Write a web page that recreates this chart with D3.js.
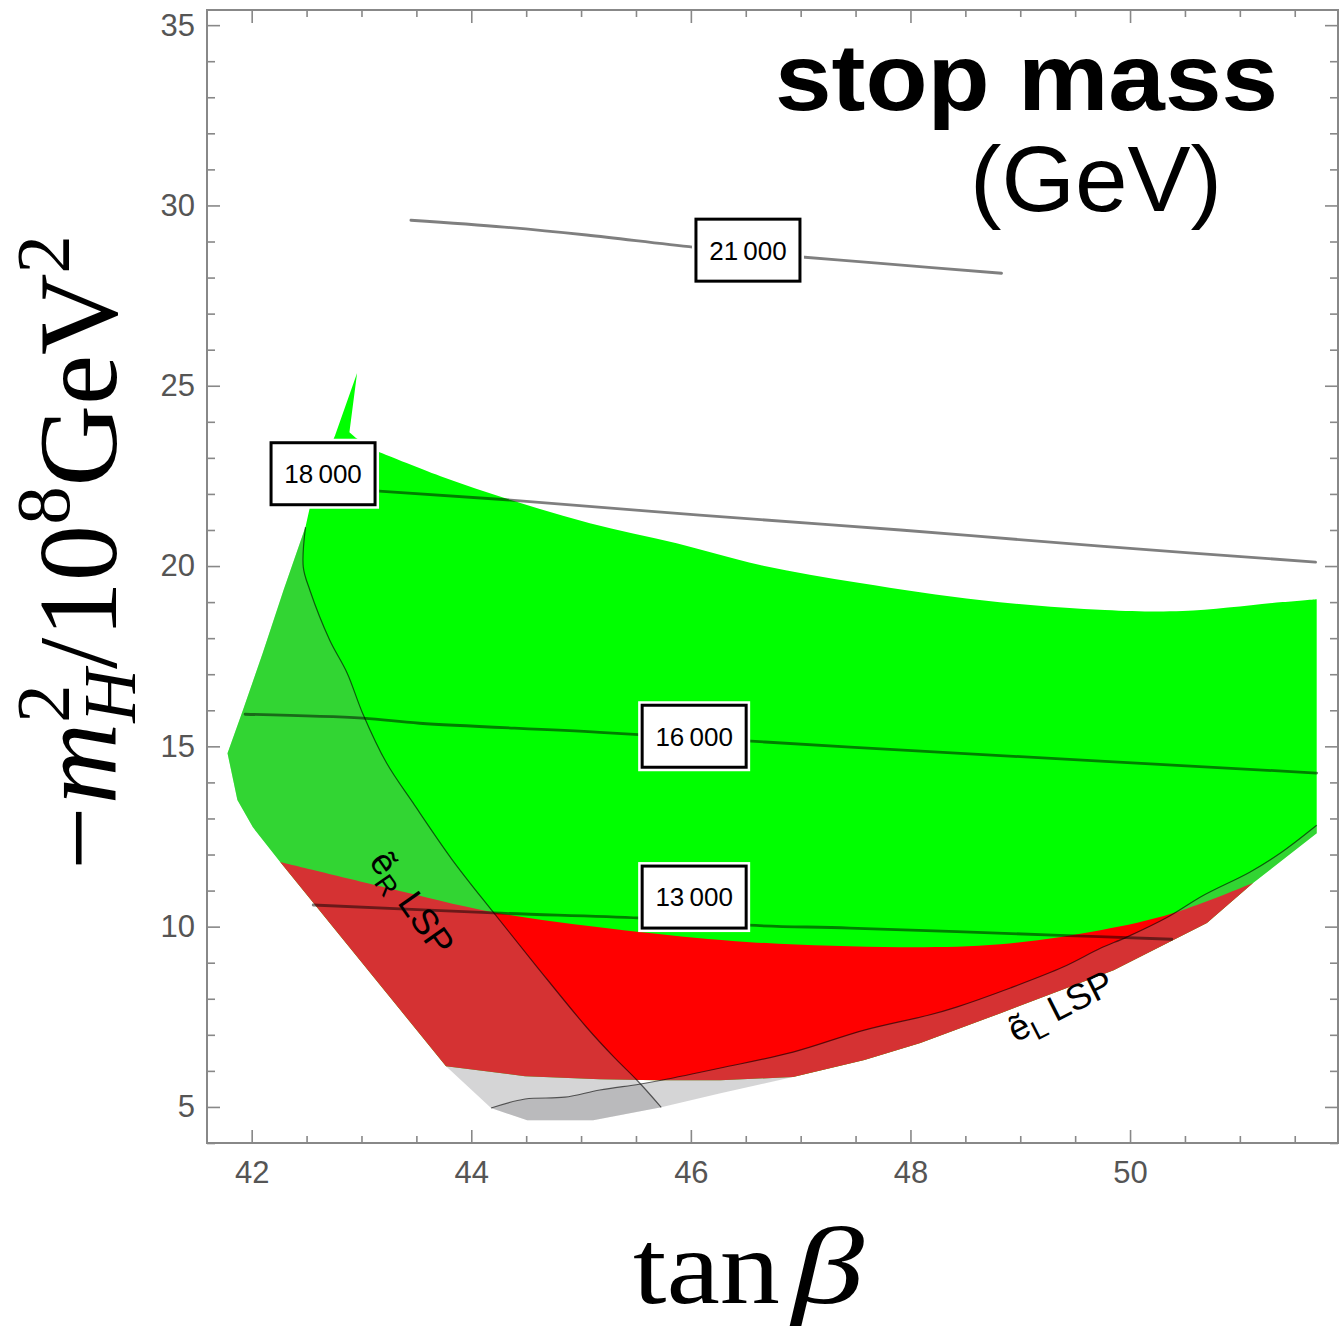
<!DOCTYPE html>
<html>
<head>
<meta charset="utf-8">
<script src="https://cdn.jsdelivr.net/npm/d3@7"></script>
<style>
  body { margin: 0; background: #fff; }
  svg { display: block; }
</style>
</head>
<body>
<svg id="chart" width="1340" height="1328"></svg>
<script>
// ---- axis ticks ----
const xTicks = [42, 44, 46, 48, 50];
const yTicks = [5, 10, 15, 20, 25, 30, 35];

// ---- regions in (tan beta, -m_H^2 / 1e8 GeV^2) ----
// allowed region (green): spike, smooth upper edge, right/lower edge, left edge
const greenSpike = [[42.76, 23.63], [42.96, 25.35], [42.89, 23.71], [42.95, 23.55], [43.16, 23.16]];
const greenTop = [
  [43.16, 23.16], [43.72, 22.49], [44.36, 21.83], [45.08, 21.19], [45.87, 20.63],
  [46.63, 20.03], [47.54, 19.53], [48.65, 19.05], [49.77, 18.78], [50.48, 18.75],
  [51.39, 19.00], [51.70, 19.08]
];
const greenLower = [
  [51.70, 19.08], [51.70, 12.59], [51.12, 11.21], [50.70, 10.10], [49.85, 8.79],
  [48.82, 7.60], [48.09, 6.77], [47.58, 6.30], [46.93, 5.83], [46.27, 5.74],
  [45.69, 5.74], [45.17, 5.77], [44.49, 5.85], [43.77, 6.13]
];
const greenLeft = [
  [43.77, 6.13], [42.26, 11.79], [42.01, 12.76], [41.87, 13.51], [41.78, 14.81],
  [41.92, 16.00], [42.10, 17.58], [42.29, 19.33], [42.49, 21.08], [42.53, 21.63],
  [42.62, 22.60], [42.76, 23.63]
];
// red band: smooth upper edge, then the lower edge shared with the green outline
const redTop = [
  [42.26, 11.79], [43.24, 11.07], [44.20, 10.40], [45.53, 9.85], [46.54, 9.57],
  [47.90, 9.43], [48.82, 9.51], [49.73, 9.90], [50.39, 10.37], [51.12, 11.21]
];
const redLower = [
  [51.12, 11.21], [50.70, 10.10], [49.85, 8.79], [48.82, 7.60], [48.09, 6.77],
  [47.58, 6.30], [46.93, 5.83], [46.27, 5.74], [45.69, 5.74], [45.17, 5.77],
  [44.49, 5.85], [43.77, 6.13], [42.26, 11.79]
];
// selectron-R LSP: boundary line and the outer edge that closes the region
const eRBoundary = [
  [42.49, 21.08], [42.47, 19.97], [42.53, 19.33], [42.71, 17.95], [42.87, 17.03],
  [43.01, 15.92], [43.23, 14.53], [43.47, 13.43], [43.83, 11.84], [44.20, 10.40],
  [44.60, 8.88], [45.05, 7.21], [45.30, 6.38], [45.51, 5.74], [45.73, 4.99]
];
const eROuter = [
  [45.73, 4.99], [45.11, 4.63], [44.51, 4.63], [44.18, 4.97], [43.77, 6.13],
  [42.26, 11.79], [42.01, 12.76], [41.87, 13.51], [41.78, 14.81], [41.92, 16.00],
  [42.10, 17.58], [42.29, 19.33], [42.49, 21.08]
];
// selectron-L LSP: boundary line and the outer edge that closes the region
const eLBoundary = [
  [44.18, 4.97], [44.49, 5.22], [44.85, 5.27], [45.17, 5.47], [45.53, 5.63],
  [45.73, 5.74], [46.27, 6.08], [46.93, 6.52], [47.58, 7.13], [48.17, 7.55],
  [48.42, 7.77], [48.91, 8.30], [49.39, 8.88], [49.73, 9.40], [49.97, 9.71],
  [50.34, 10.26], [50.67, 10.87], [51.09, 11.51], [51.37, 12.04], [51.70, 12.81]
];
const eLOuter = [
  [51.70, 12.81], [51.70, 12.59], [51.12, 11.21], [50.70, 10.10], [49.85, 8.79],
  [48.82, 7.60], [48.09, 6.77], [47.58, 6.30], [46.93, 5.83], [46.27, 5.38],
  [45.73, 4.99], [45.11, 4.63], [44.51, 4.63], [44.18, 4.97]
];

// ---- stop-mass contours (GeV) ----
const contourLevels = [21000, 18000, 16000, 13000];
const contour21000 = [[43.45, 29.59], [44.30, 29.40], [45.05, 29.18], [46.03, 28.84], [47.01, 28.57], [47.70, 28.40], [48.83, 28.12]];
const contour18000 = [[42.53, 22.19], [43.16, 22.08], [44.36, 21.83], [46.08, 21.41], [47.91, 21.00], [49.73, 20.55], [51.69, 20.11]];
const contour16000 = [[41.94, 15.89], [43.01, 15.78], [43.53, 15.64], [45.17, 15.39], [47.45, 14.98], [49.73, 14.59], [51.70, 14.26]];
const contour13000 = [[42.56, 10.60], [44.20, 10.38], [45.54, 10.24], [46.52, 10.04], [47.45, 9.96], [49.36, 9.76], [50.38, 9.65]];
const contourLabelAt = [[46.52, 28.76], [42.65, 22.56], [46.03, 15.28], [46.03, 10.82]];

(function draw() {
  const svg = d3.select('#chart');
  const pL = 207, pR = 1338, pT = 10, pB = 1143;
  const x = d3.scaleLinear().domain([41.593, 51.894]).range([pL, pR]);
  const y = d3.scaleLinear().domain([4.0, 35.42]).range([pB, pT]);
  const lineWith = curve => d3.line().x(d => x(d[0])).y(d => y(d[1])).curve(curve);
  const smooth = lineWith(d3.curveCatmullRom.alpha(0.5));
  const straight = lineWith(d3.curveLinear);
  // closed outline made of consecutive smooth / straight pieces
  const ring = parts => parts.map(([pts, gen], i) => {
    const s = gen(pts);
    return i === 0 ? s : 'L' + s.slice(1);
  }).join('') + 'Z';

  const plot = svg.append('g');
  plot.append('path').attr('fill', '#00ff00')
    .attr('d', ring([[greenSpike, straight], [greenTop, smooth], [greenLower, straight], [greenLeft, straight]]));
  plot.append('path').attr('fill', '#ff0000')
    .attr('d', ring([[redTop, smooth], [redLower, straight]]));

  const shade = 'rgba(138,138,140,0.36)';
  plot.append('path').attr('fill', shade).attr('d', ring([[eRBoundary, smooth], [eROuter, straight]]));
  plot.append('path').attr('fill', shade).attr('d', ring([[eLBoundary, smooth], [eLOuter, straight]]));

  [eRBoundary, eLBoundary].forEach(b => {
    plot.append('path').attr('d', smooth(b)).attr('fill', 'none')
      .attr('stroke', 'rgba(0,0,0,0.6)').attr('stroke-width', 1.2);
  });

  const contours = [contour21000, contour18000, contour16000, contour13000];
  contours.forEach(c => {
    plot.append('path').attr('d', smooth(c)).attr('fill', 'none')
      .attr('stroke', 'rgba(0,0,0,0.5)').attr('stroke-width', 2.8)
      .attr('stroke-linecap', 'round');
  });

  const fmt = d3.formatLocale({ thousands: '\u2009', grouping: [3], decimal: '.', currency: ['', ''] }).format(',');
  contourLevels.forEach((lvl, i) => {
    const [ax, ay] = contourLabelAt[i];
    const g = plot.append('g').attr('transform', `translate(${x(ax)},${y(ay)})`);
    g.append('rect').attr('x', -56).attr('y', -35).attr('width', 112).attr('height', 70).attr('fill', '#fff');
    g.append('rect').attr('x', -52).attr('y', -31).attr('width', 104).attr('height', 62)
      .attr('fill', '#fff').attr('stroke', '#000').attr('stroke-width', 3);
    g.append('text').attr('text-anchor', 'middle').attr('dy', '0.36em')
      .attr('font-family', 'Liberation Sans, Arial, sans-serif').attr('font-size', 26)
      .attr('fill', '#000').text(fmt(lvl));
  });

  // LSP labels
  function lspLabel(cx, cy, angle, sub) {
    const t = plot.append('text')
      .attr('transform', `translate(${cx},${cy}) rotate(${angle})`)
      .attr('text-anchor', 'middle')
      .attr('font-family', 'Liberation Sans, Arial, sans-serif')
      .attr('font-size', 36).attr('fill', '#000');
    t.append('tspan').text('\u1EBD');
    t.append('tspan').attr('font-size', 27).attr('dy', 8).text(sub);
    t.append('tspan').attr('dy', -8).text(' LSP');
  }
  lspLabel(402, 910, 55, 'R');
  lspLabel(1066, 1017, -27, 'L');

  // ---- frame, ticks, tick labels ----
  const axisColor = '#888';
  const axes = svg.append('g').attr('font-family', 'Liberation Sans, Arial, sans-serif');
  const xMinor = d3.range(42, 51.9, 0.5).filter(v => !xTicks.includes(v));
  const yMinor = d3.range(4, 35.5, 1).filter(v => !yTicks.includes(v));

  function styleAxis(g) {
    g.select('.domain').remove();
    g.selectAll('line').attr('stroke', axisColor).attr('stroke-width', 1.6);
    g.selectAll('text').attr('fill', '#555').attr('font-size', 31);
  }
  axes.append('g').attr('transform', `translate(0,${pB})`)
    .call(d3.axisBottom(x).tickValues(xTicks).tickSize(-13).tickPadding(18).tickFormat(d3.format('d'))).call(styleAxis);
  axes.append('g').attr('transform', `translate(0,${pB})`)
    .call(d3.axisBottom(x).tickValues(xMinor).tickSize(-7).tickFormat('')).call(styleAxis);
  axes.append('g').attr('transform', `translate(0,${pT})`)
    .call(d3.axisTop(x).tickValues(xTicks).tickSize(-13).tickFormat('')).call(styleAxis);
  axes.append('g').attr('transform', `translate(0,${pT})`)
    .call(d3.axisTop(x).tickValues(xMinor).tickSize(-7).tickFormat('')).call(styleAxis);
  axes.append('g').attr('transform', `translate(${pL},0)`)
    .call(d3.axisLeft(y).tickValues(yTicks).tickSize(-13).tickPadding(12).tickFormat(d3.format('d'))).call(styleAxis);
  axes.append('g').attr('transform', `translate(${pL},0)`)
    .call(d3.axisLeft(y).tickValues(yMinor).tickSize(-8).tickFormat('')).call(styleAxis);
  axes.append('g').attr('transform', `translate(${pR},0)`)
    .call(d3.axisRight(y).tickValues(yTicks).tickSize(-13).tickFormat('')).call(styleAxis);
  axes.append('g').attr('transform', `translate(${pR},0)`)
    .call(d3.axisRight(y).tickValues(yMinor).tickSize(-8).tickFormat('')).call(styleAxis);
  axes.append('rect').attr('x', pL).attr('y', pT).attr('width', pR - pL).attr('height', pB - pT)
    .attr('fill', 'none').attr('stroke', axisColor).attr('stroke-width', 2);

  // ---- titles ----
  svg.append('text').attr('x', 775).attr('y', 110)
    .attr('font-family', 'Liberation Sans, Arial, sans-serif').attr('font-weight', 'bold')
    .attr('font-size', 94).attr('textLength', 503).attr('lengthAdjust', 'spacingAndGlyphs')
    .text('stop mass');
  svg.append('text').attr('x', 970).attr('y', 211)
    .attr('font-family', 'Liberation Sans, Arial, sans-serif')
    .attr('font-size', 92).attr('textLength', 252).attr('lengthAdjust', 'spacingAndGlyphs')
    .text('(GeV)');

  // x title: tan beta
  const serif = 'Liberation Serif, Times New Roman, serif';
  svg.append('text').attr('x', 633).attr('y', 1303)
    .attr('font-family', serif).attr('font-size', 106)
    .attr('textLength', 147).attr('lengthAdjust', 'spacingAndGlyphs').text('tan');
  svg.append('text').attr('x', 792).attr('y', 1303)
    .attr('font-family', serif).attr('font-size', 110).attr('font-style', 'italic')
    .attr('textLength', 72).attr('lengthAdjust', 'spacingAndGlyphs').text('\u03B2');

  // y title: -m_H^2 / 10^8 GeV^2, laid out piece by piece along a rotated baseline
  function mathLabel(parent, pieces, fs) {
    let pos = 0, last = 0;
    pieces.forEach(p => {
      const t = parent.append('text')
        .attr('font-family', serif)
        .attr('font-size', fs * (p.scale || 1))
        .attr('font-style', p.italic ? 'italic' : 'normal')
        .attr('y', (p.shift || 0) * fs)
        .text(p.t);
      if (p.stack) pos -= last;
      t.attr('x', pos);
      last = t.node().getComputedTextLength();
      pos += last + (p.gap || 0) * fs;
    });
    return pos;
  }
  const yTitle = svg.append('g');
  const yPieces = [
    { t: '\u2212', gap: 0.02 },
    { t: 'm', italic: true },
    { t: '2', scale: 0.68, shift: -0.42 },
    { t: 'H', scale: 0.66, shift: 0.17, italic: true, stack: true },
    { t: '/10' },
    { t: '8', scale: 0.68, shift: -0.42 },
    { t: 'GeV' },
    { t: '2', scale: 0.68, shift: -0.42 }
  ];
  const inner = yTitle.append('g');
  const len0 = mathLabel(inner, yPieces, 100);
  inner.selectAll('*').remove();
  mathLabel(inner, yPieces, 100 * 635 / len0);
  yTitle.attr('transform', 'translate(116,870) rotate(-90)');
})();
</script>
</body>
</html>
